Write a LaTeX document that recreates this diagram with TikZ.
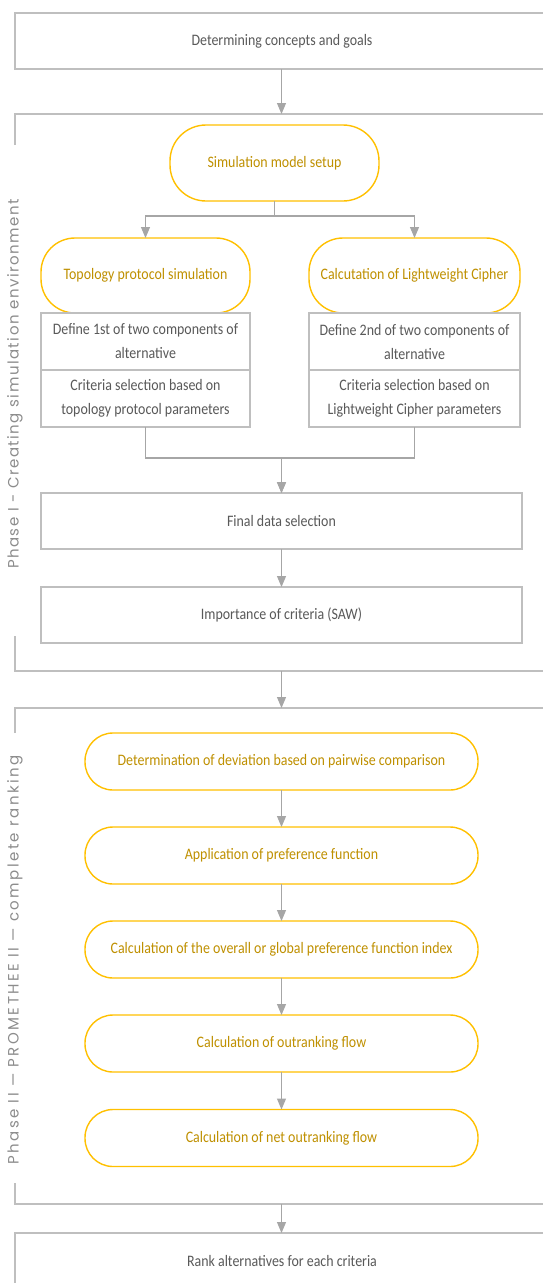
\documentclass[tikz,border=0pt]{standalone}
\usepackage{fontspec}
\setmainfont{Carlito}[FakeStretch=0.87]
\newfontfamily\labelfontA{Poppins}[LetterSpace=10]
\newfontfamily\labelfontB{Poppins}[LetterSpace=16]
\usetikzlibrary{arrows.meta,calc}
\definecolor{boxgray}{HTML}{BFBFBF}
\definecolor{framegray}{HTML}{BFBFBF}
\definecolor{arrgray}{HTML}{A6A6A6}
\definecolor{txtgray}{HTML}{595959}
\definecolor{gold}{HTML}{FFC000}
\definecolor{goldtxt}{HTML}{BF9000}
\definecolor{labgray}{HTML}{8C8C8C}
\begin{document}
\begin{tikzpicture}[x=1pt,y=-1pt,
  basebox/.style={line width=1.4pt, fill=white, inner sep=0pt, outer sep=0pt, align=center,
    font=\fontsize{16}{24}\selectfont},
  graybox/.style={basebox, draw=boxgray, text=txtgray},
  yelbox/.style={basebox, draw=gold, text=goldtxt, rounded corners=28pt},
  conn/.style={draw=arrgray, line width=1.2pt},
  arr/.style={conn, -{Triangle[width=9pt,length=11pt]}},
  phaseline/.style={draw=framegray, line width=1.8pt},
  phaselabel/.style={text=labgray, rotate=90, inner sep=0pt}
]
\useasboundingbox (0,0) rectangle (543,1283);
\clip (0,0) rectangle (543,1283);

% top box
\node[graybox, minimum width=534pt, minimum height=56pt] (goals) at (282,41) {Determining concepts and goals};

% Phase I frame
\coordinate (f1top) at (281.5,114);
\coordinate (f1bot) at (281.5,671);
\draw[phaseline] (15,145) -- (15,114) -- (560,114);
\draw[phaseline] (15,636) -- (15,671) -- (560,671);
\node[phaselabel, font=\labelfontA\fontsize{15}{17}\selectfont] (lab1) at (15,384) {Phase I - Creating simulation environment};

\node[yelbox, rounded corners=36pt, minimum width=209pt, minimum height=76pt] (sim) at (274.5,163) {Simulation model setup};
\node[yelbox, rounded corners=34pt, minimum width=209pt, minimum height=75pt] (topo) at (145.5,275.5) {Topology protocol simulation};
\node[yelbox, rounded corners=34pt, minimum width=211pt, minimum height=75pt] (calc) at (414.5,275.5) {Calcutation of Lightweight Cipher};
\node[graybox, minimum width=209pt, minimum height=57pt] (def1) at (145.5,341.5) {Define 1st of two components of\\alternative};
\node[graybox, minimum width=211pt, minimum height=57pt] (def2) at (414.5,341.5) {Define 2nd of two components of\\alternative};
\node[graybox, minimum width=209pt, minimum height=57pt] (crit1) at (145.5,398.5) {Criteria selection based on\\topology protocol parameters};
\node[graybox, minimum width=211pt, minimum height=57pt] (crit2) at (414.5,398.5) {Criteria selection based on\\Lightweight Cipher parameters};
\node[graybox, minimum width=481pt, minimum height=56pt] (final) at (281.5,521) {Final data selection};
\node[graybox, minimum width=481pt, minimum height=56pt] (imp) at (281.5,615) {Importance of criteria (SAW)};

% Phase II frame
\coordinate (f2top) at (281.5,708);
\coordinate (f2bot) at (281.5,1204);
\draw[phaseline] (15,733) -- (15,708) -- (560,708);
\draw[phaseline] (15,1183) -- (15,1204) -- (560,1204);
\node[phaselabel, font=\labelfontB\fontsize{15}{17}\selectfont] (lab2) at (15,960) {Phase II — PROMETHEE II — complete ranking};

\node[yelbox, minimum width=393pt, minimum height=57pt] (dev) at (281.5,761.5) {Determination of deviation based on pairwise comparison};
\node[yelbox, minimum width=393pt, minimum height=57pt] (pref) at (281.5,855.5) {Application of preference function};
\node[yelbox, minimum width=393pt, minimum height=57pt] (glob) at (281.5,949.5) {Calculation of the overall or global preference function index};
\node[yelbox, minimum width=393pt, minimum height=57pt] (out) at (281.5,1043.5) {Calculation of outranking flow};
\node[yelbox, minimum width=393pt, minimum height=57pt] (net) at (281.5,1138) {Calculation of net outranking flow};

\node[graybox, minimum width=534pt, minimum height=56pt] (rank) at (282,1261) {Rank alternatives for each criteria};

% connectors
\draw[arr] (goals.south -| f1top) -- (f1top);
\draw[arr] (sim.south) -- ++(0,15) -| (topo.north);
\draw[arr] (sim.south) -- ++(0,15) -| (calc.north);
\draw[arr] (crit1.south) -- ++(0,31) -| (final.north);
\draw[arr] (crit2.south) -- ++(0,31) -| (final.north);
\draw[arr] (final) -- (imp);
\draw[arr] (f1bot) -- (f2top);
\draw[arr] (dev) -- (pref);
\draw[arr] (pref) -- (glob);
\draw[arr] (glob) -- (out);
\draw[arr] (out) -- (net);
\draw[arr] (f2bot) -- (rank.north -| f2bot);
\end{tikzpicture}
\end{document}
